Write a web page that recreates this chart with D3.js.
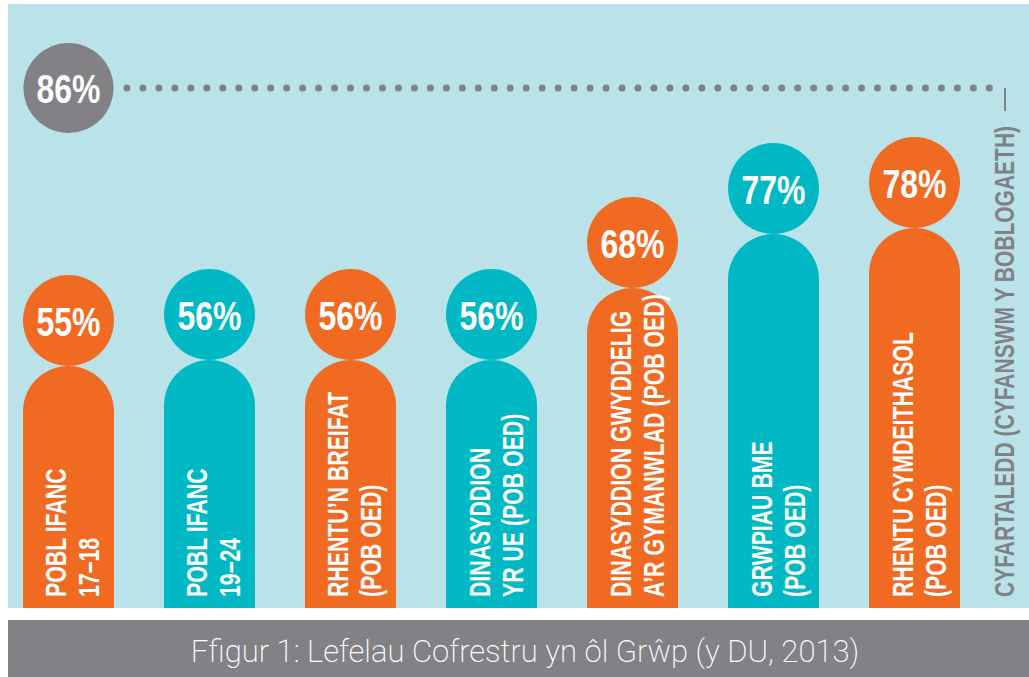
<!DOCTYPE html>
<html>
<head>
<meta charset="utf-8">
<script src="https://cdn.jsdelivr.net/npm/d3@7"></script>
<style>
  html, body { margin: 0; padding: 0; background: #ffffff; }
  svg { display: block; }
</style>
</head>
<body>
<svg id="chart" width="1029" height="677"></svg>
<script>
// ---- data ----
const labelLine1 = ["POBL IFANC", "POBL IFANC", "RHENTU’N BREIFAT", "DINASYDDION", "DINASYDDION GWYDDELIG", "GRWPIAU BME", "RHENTU CYMDEITHASOL"];
const labelLine2 = ["17–18", "19–24", "(POB OED)", "YR UE (POB OED)", "A’R GYMANWLAD (POB OED)", "(POB OED)", "(POB OED)"];
const values = [55, 56, 56, 56, 68, 77, 78];
const averageValue = 86;
const averageLabel = "CYFARTALEDD (CYFANSWM Y BOBLOGAETH)";
const caption = "Ffigur 1: Lefelau Cofrestru yn ôl Grŵp (y DU, 2013)";

// ---- style ----
const ORANGE = "#f06a22", TEAL = "#00b9c5", BG = "#b9e3e9", GREY = "#818186";
const boldFont = "'Liberation Sans', Arial, sans-serif";

const svg = d3.select("#chart");
const W = 1029, H = 677;
const plot = { left: 8, top: 4, right: 1029, bottom: 608 };

svg.append("rect").attr("x", plot.left).attr("y", plot.top)
  .attr("width", plot.right - plot.left).attr("height", plot.bottom - plot.top).attr("fill", BG);

const idx = d3.range(values.length);
const x = d3.scaleBand().domain(idx).range([23, 960]).paddingInner(0.355).paddingOuter(0);
const y = d3.scaleLinear().domain([55, 78]).range([366, 228]);
const w = x.bandwidth(), r = w / 2;
const color = i => (i % 2 === 0 ? ORANGE : TEAL);

// bars with rounded tops
svg.append("g").selectAll("path").data(idx).join("path")
  .attr("fill", i => color(i))
  .attr("d", i => {
    const x0 = x(i), top = y(values[i]);
    return `M${x0},${plot.bottom}V${top + r}A${r},${r} 0 0 1 ${x0 + w},${top + r}V${plot.bottom}Z`;
  });

// value circles
svg.append("g").selectAll("circle").data(idx).join("circle")
  .attr("cx", i => x(i) + r).attr("cy", i => y(values[i]) - r).attr("r", r)
  .attr("fill", i => color(i));

svg.append("g").selectAll("text").data(idx).join("text")
  .attr("transform", i => `translate(${x(i) + r},${y(values[i]) - r + 15}) scale(0.78,1)`)
  .attr("text-anchor", "middle").attr("fill", "#fff")
  .attr("font-family", boldFont).attr("font-weight", "bold").attr("font-size", 41)
  .text(i => values[i] + "%");

// rotated category labels
const lab = svg.append("g").selectAll("g").data(idx).join("g")
  .attr("transform", i => `translate(${x(i) + r},${plot.bottom - 11})`);
lab.append("text")
  .attr("transform", "translate(-2,0) rotate(-90) scale(0.71,1)")
  .attr("fill", "#fff").attr("font-family", boldFont).attr("font-weight", "bold").attr("font-size", 30)
  .text(i => labelLine1[i]);
lab.append("text")
  .attr("transform", "translate(31,0) rotate(-90) scale(0.71,1)")
  .attr("fill", "#fff").attr("font-family", boldFont).attr("font-weight", "bold").attr("font-size", 30)
  .text(i => labelLine2[i]);

// average annotation
const avgCx = x(0) + r, avgCy = 88, lineEndX = 1005;
svg.append("line").attr("x1", avgCx + r + 13).attr("x2", lineEndX + 0.1)
  .attr("y1", avgCy).attr("y2", avgCy)
  .attr("stroke", GREY).attr("stroke-width", 7).attr("stroke-linecap", "round")
  .attr("stroke-dasharray", "0 15.97");
svg.append("line").attr("x1", lineEndX).attr("x2", lineEndX).attr("y1", avgCy).attr("y2", 111)
  .attr("stroke", GREY).attr("stroke-width", 2);
svg.append("circle").attr("cx", avgCx).attr("cy", avgCy).attr("r", 45).attr("fill", GREY);
svg.append("text")
  .attr("transform", `translate(${avgCx},${avgCy + 15}) scale(0.78,1)`)
  .attr("text-anchor", "middle").attr("fill", "#fff")
  .attr("font-family", boldFont).attr("font-weight", "bold").attr("font-size", 41)
  .text(averageValue + "%");
svg.append("text")
  .attr("transform", `translate(1014,${plot.bottom - 11}) rotate(-90) scale(0.75,1)`)
  .attr("fill", GREY).attr("font-family", boldFont).attr("font-weight", "bold").attr("font-size", 28)
  .text(averageLabel);

// caption
svg.append("rect").attr("x", 8).attr("y", 620).attr("width", W - 8).attr("height", H - 620).attr("fill", GREY);
svg.append("text").attr("x", 525).attr("y", 662).attr("text-anchor", "middle")
  .attr("fill", "#fff").attr("font-family", "Roboto, 'Liberation Sans', sans-serif").attr("font-weight", 200)
  .attr("font-size", 31).text(caption);
</script>
</body>
</html>
